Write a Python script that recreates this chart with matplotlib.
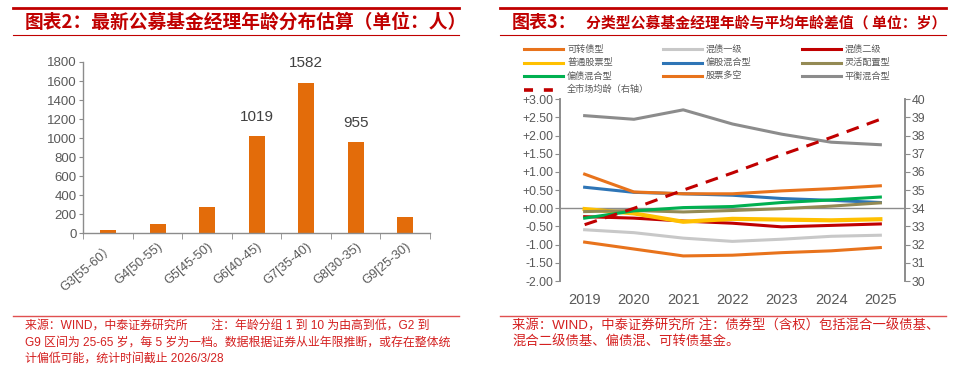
import matplotlib
matplotlib.use('Agg')
import matplotlib.pyplot as plt
from matplotlib.lines import Line2D
from matplotlib.transforms import ScaledTranslation

plt.rcParams['font.family'] = ['Liberation Sans', 'Noto Sans CJK SC', 'DejaVu Sans']

# --- datos: gráfico izquierdo ---
grupos = ['G3[55-60）', 'G4[50-55)', 'G5[45-50)', 'G6[40-45)', 'G7[35-40)', 'G8[30-35)', 'G9[25-30)']
personas = [30, 100, 273, 1019, 1582, 955, 170]
etiquetados = [3, 4, 5]  # índices con etiqueta de valor

# --- datos: gráfico derecho ---
anios = ['2019', '2020', '2021', '2022', '2023', '2024', '2025']
kezhuanzhai = [-0.93, -1.12, -1.31, -1.29, -1.22, -1.17, -1.08]
hunzhai_1 = [-0.59, -0.67, -0.82, -0.91, -0.85, -0.77, -0.74]
hunzhai_2 = [-0.23, -0.27, -0.35, -0.41, -0.51, -0.47, -0.43]
putong_gupiao = [-0.02, -0.14, -0.37, -0.29, -0.31, -0.33, -0.30]
piangu_hunhe = [0.58, 0.44, 0.40, 0.36, 0.27, 0.22, 0.16]
linghuo_peizhi = [-0.09, -0.06, -0.10, -0.06, -0.01, 0.06, 0.15]
pianzhai_hunhe = [-0.27, -0.07, 0.02, 0.05, 0.16, 0.23, 0.31]
gupiao_duokong = [0.94, 0.45, 0.40, 0.40, 0.48, 0.54, 0.62]
pingheng_hunhe = [2.55, 2.45, 2.71, 2.32, 2.04, 1.82, 1.75]
quanshichang = [33.1, 34.0, 35.0, 35.95, 36.95, 37.9, 38.9]

series = [
    ('可转债型', kezhuanzhai, '#E8731C', 2.2),
    ('混债一级', hunzhai_1, '#C8C8C8', 2.2),
    ('混债二级', hunzhai_2, '#C00000', 2.2),
    ('普通股票型', putong_gupiao, '#FFC000', 3.0),
    ('偏股混合型', piangu_hunhe, '#2E75B6', 2.2),
    ('灵活配置型', linghuo_peizhi, '#948A54', 2.2),
    ('偏债混合型', pianzhai_hunhe, '#00B050', 2.2),
    ('股票多空', gupiao_duokong, '#E8731C', 2.2),
    ('平衡混合型', pingheng_hunhe, '#8C8C8C', 2.2),
]

gris = '#595959'
eje = '#8C8C8C'
rojo = '#C00000'
rojo_nota = '#D42020'

fig = plt.figure(figsize=(9.7, 3.68), dpi=100)
W, H = 970, 368


def fx(px):
    return px / W


def fy(py):
    return 1 - py / H


def marco(x0, x1):
    # líneas rojas del título y de la nota
    fig.add_artist(Line2D([fx(x0), fx(x1)], [fy(8), fy(8)], color=rojo, lw=2.0))
    fig.add_artist(Line2D([fx(x0), fx(x1)], [fy(35), fy(35)], color=rojo, lw=0.8))
    fig.add_artist(Line2D([fx(x0), fx(x1)], [fy(316), fy(316)], color='#E05050', lw=1.0))


marco(13, 459)
marco(500, 946)

# títulos
fig.text(fx(25), fy(22), '图表2：最新公募基金经理年龄分布估算（单位：人）', color=rojo,
         fontsize=13.5, fontweight='bold', family=['Noto Sans CJK SC'], va='center', ha='left')
fig.text(fx(512), fy(22), '图表3：', color=rojo, fontsize=13, fontweight='bold',
         family=['Noto Sans CJK SC'], va='center', ha='left')
fig.text(fx(586), fy(22.5), '分类型公募基金经理年龄与平均年龄差值（ 单位：岁）', color=rojo,
         fontsize=10.7, fontweight='bold', family=['Noto Sans CJK SC'], va='center', ha='left')

# notas
nota_izq = ['来源：WIND，中泰证券研究所　　注：年龄分组 1 到 10 为由高到低，G2 到',
            'G9 区间为 25-65 岁，每 5 岁为一档。数据根据证券从业年限推断，或存在整体统',
            '计偏低可能，统计时间截止 2026/3/28']
for i, linea in enumerate(nota_izq):
    fig.text(fx(25), fy(326 + i * 16.2), linea, color=rojo_nota, fontsize=8.6, va='center', ha='left')

nota_der = ['来源：WIND，中泰证券研究所 注：债券型（含权）包括混合一级债基、',
            '混合二级债基、偏债混、可转债基金。']
for i, linea in enumerate(nota_der):
    fig.text(fx(512), fy(326 + i * 16.2), linea, color=rojo_nota, fontsize=9.6, va='center', ha='left')

# --- gráfico izquierdo: barras ---
ax1 = fig.add_axes([fx(83.5), fy(233.3), fx(430) - fx(83.5), fy(62) - fy(233.3)])
xs = list(range(len(grupos)))
ax1.bar(xs, personas, width=0.32, color='#E36C0A')
for i in etiquetados:
    ax1.annotate(str(personas[i]), (xs[i], personas[i]), xytext=(0, 14), textcoords='offset points',
                 ha='center', va='center', fontsize=11, color='#404040')
ax1.set_xlim(-0.5, len(grupos) - 0.5)
ax1.set_ylim(0, 1800)
ax1.set_yticks(range(0, 1801, 200))
ax1.set_xticks(xs)
ax1.set_xticklabels(grupos, rotation=40, ha='right', rotation_mode='anchor', fontsize=9.3, color=gris)
desplazar = ScaledTranslation(6 / 100, 0, fig.dpi_scale_trans)
for etiqueta in ax1.get_xticklabels():
    etiqueta.set_transform(etiqueta.get_transform() + desplazar)
ax1.set_xticks([x - 0.5 for x in xs] + [len(grupos) - 0.5], minor=True)
ax1.tick_params(axis='x', which='major', length=0, pad=5)
ax1.tick_params(axis='x', which='minor', length=4, color=eje, direction='out')
ax1.tick_params(axis='y', length=3, color=eje, labelsize=9.5, labelcolor=gris, pad=2)
for lado in ['top', 'right']:
    ax1.spines[lado].set_visible(False)
for lado in ['left', 'bottom']:
    ax1.spines[lado].set_color(eje)
    ax1.spines[lado].set_linewidth(1.0)

# --- gráfico derecho: líneas ---
ax2 = fig.add_axes([fx(560), fy(281), fx(905) - fx(560), fy(99.3) - fy(281)])
ax3 = ax2.twinx()
xs2 = list(range(len(anios)))
ax2.axhline(0, color=eje, lw=1.0, zorder=1)
for nombre, valores, color, lw in series:
    ax2.plot(xs2, valores, color=color, lw=lw, label=nombre, zorder=2)
ax3.plot(xs2, quanshichang, color='#C00000', lw=2.2, ls=(0, (4.2, 2.8)), label='全市场均龄（右轴）')

ax2.set_xlim(-0.5, len(anios) - 0.5)
ax2.set_ylim(-2, 3)
ax2.set_yticks([v / 2 for v in range(-4, 7)])
ax2.set_yticklabels([f'{v / 2:+.2f}' for v in range(-4, 7)])
ax3.set_ylim(30, 40)
ax3.set_yticks(range(30, 41))
ax2.set_xticks(xs2)
ax2.set_xticklabels(anios)
ax2.tick_params(axis='x', length=0, pad=9, labelsize=10.5, labelcolor=gris)
ax2.tick_params(axis='y', length=3.5, color=eje, labelsize=8.8, labelcolor=gris, pad=1.5)
ax3.tick_params(axis='y', length=3.5, color=eje, labelsize=8.8, labelcolor=gris, pad=1.5)
for a in (ax2, ax3):
    a.spines['top'].set_visible(False)
    a.spines['bottom'].set_visible(False)
    a.spines['left'].set_color(eje)
    a.spines['right'].set_color(eje)
    a.spines['left'].set_linewidth(1.2)
    a.spines['right'].set_linewidth(1.2)

# leyenda en rejilla de 3 columnas (filas como en el original)
entradas = [(n, c, '-', 2.2) for n, _, c, _ in series]
entradas.append(('全市场均龄（右轴）', '#C00000', (0, (2.5, 3.0)), 2.6))
col_x = [524, 663, 802]
fila_y = [49, 62.5, 76, 89.5]
for k, (nombre, color, estilo, lw) in enumerate(entradas):
    fila, col = divmod(k, 3)
    x0 = col_x[col]
    y0 = fila_y[fila]
    largo = 39 if fila < 3 else 33
    fig.add_artist(Line2D([fx(x0), fx(x0 + largo)], [fy(y0), fy(y0)], color=color, lw=lw, ls=estilo))
    fig.text(fx(x0 + 43), fy(y0), nombre, color=gris, fontsize=6.6, va='center', ha='left',
             family=['Noto Sans CJK SC'])

fig.savefig('out.png', dpi=100)
